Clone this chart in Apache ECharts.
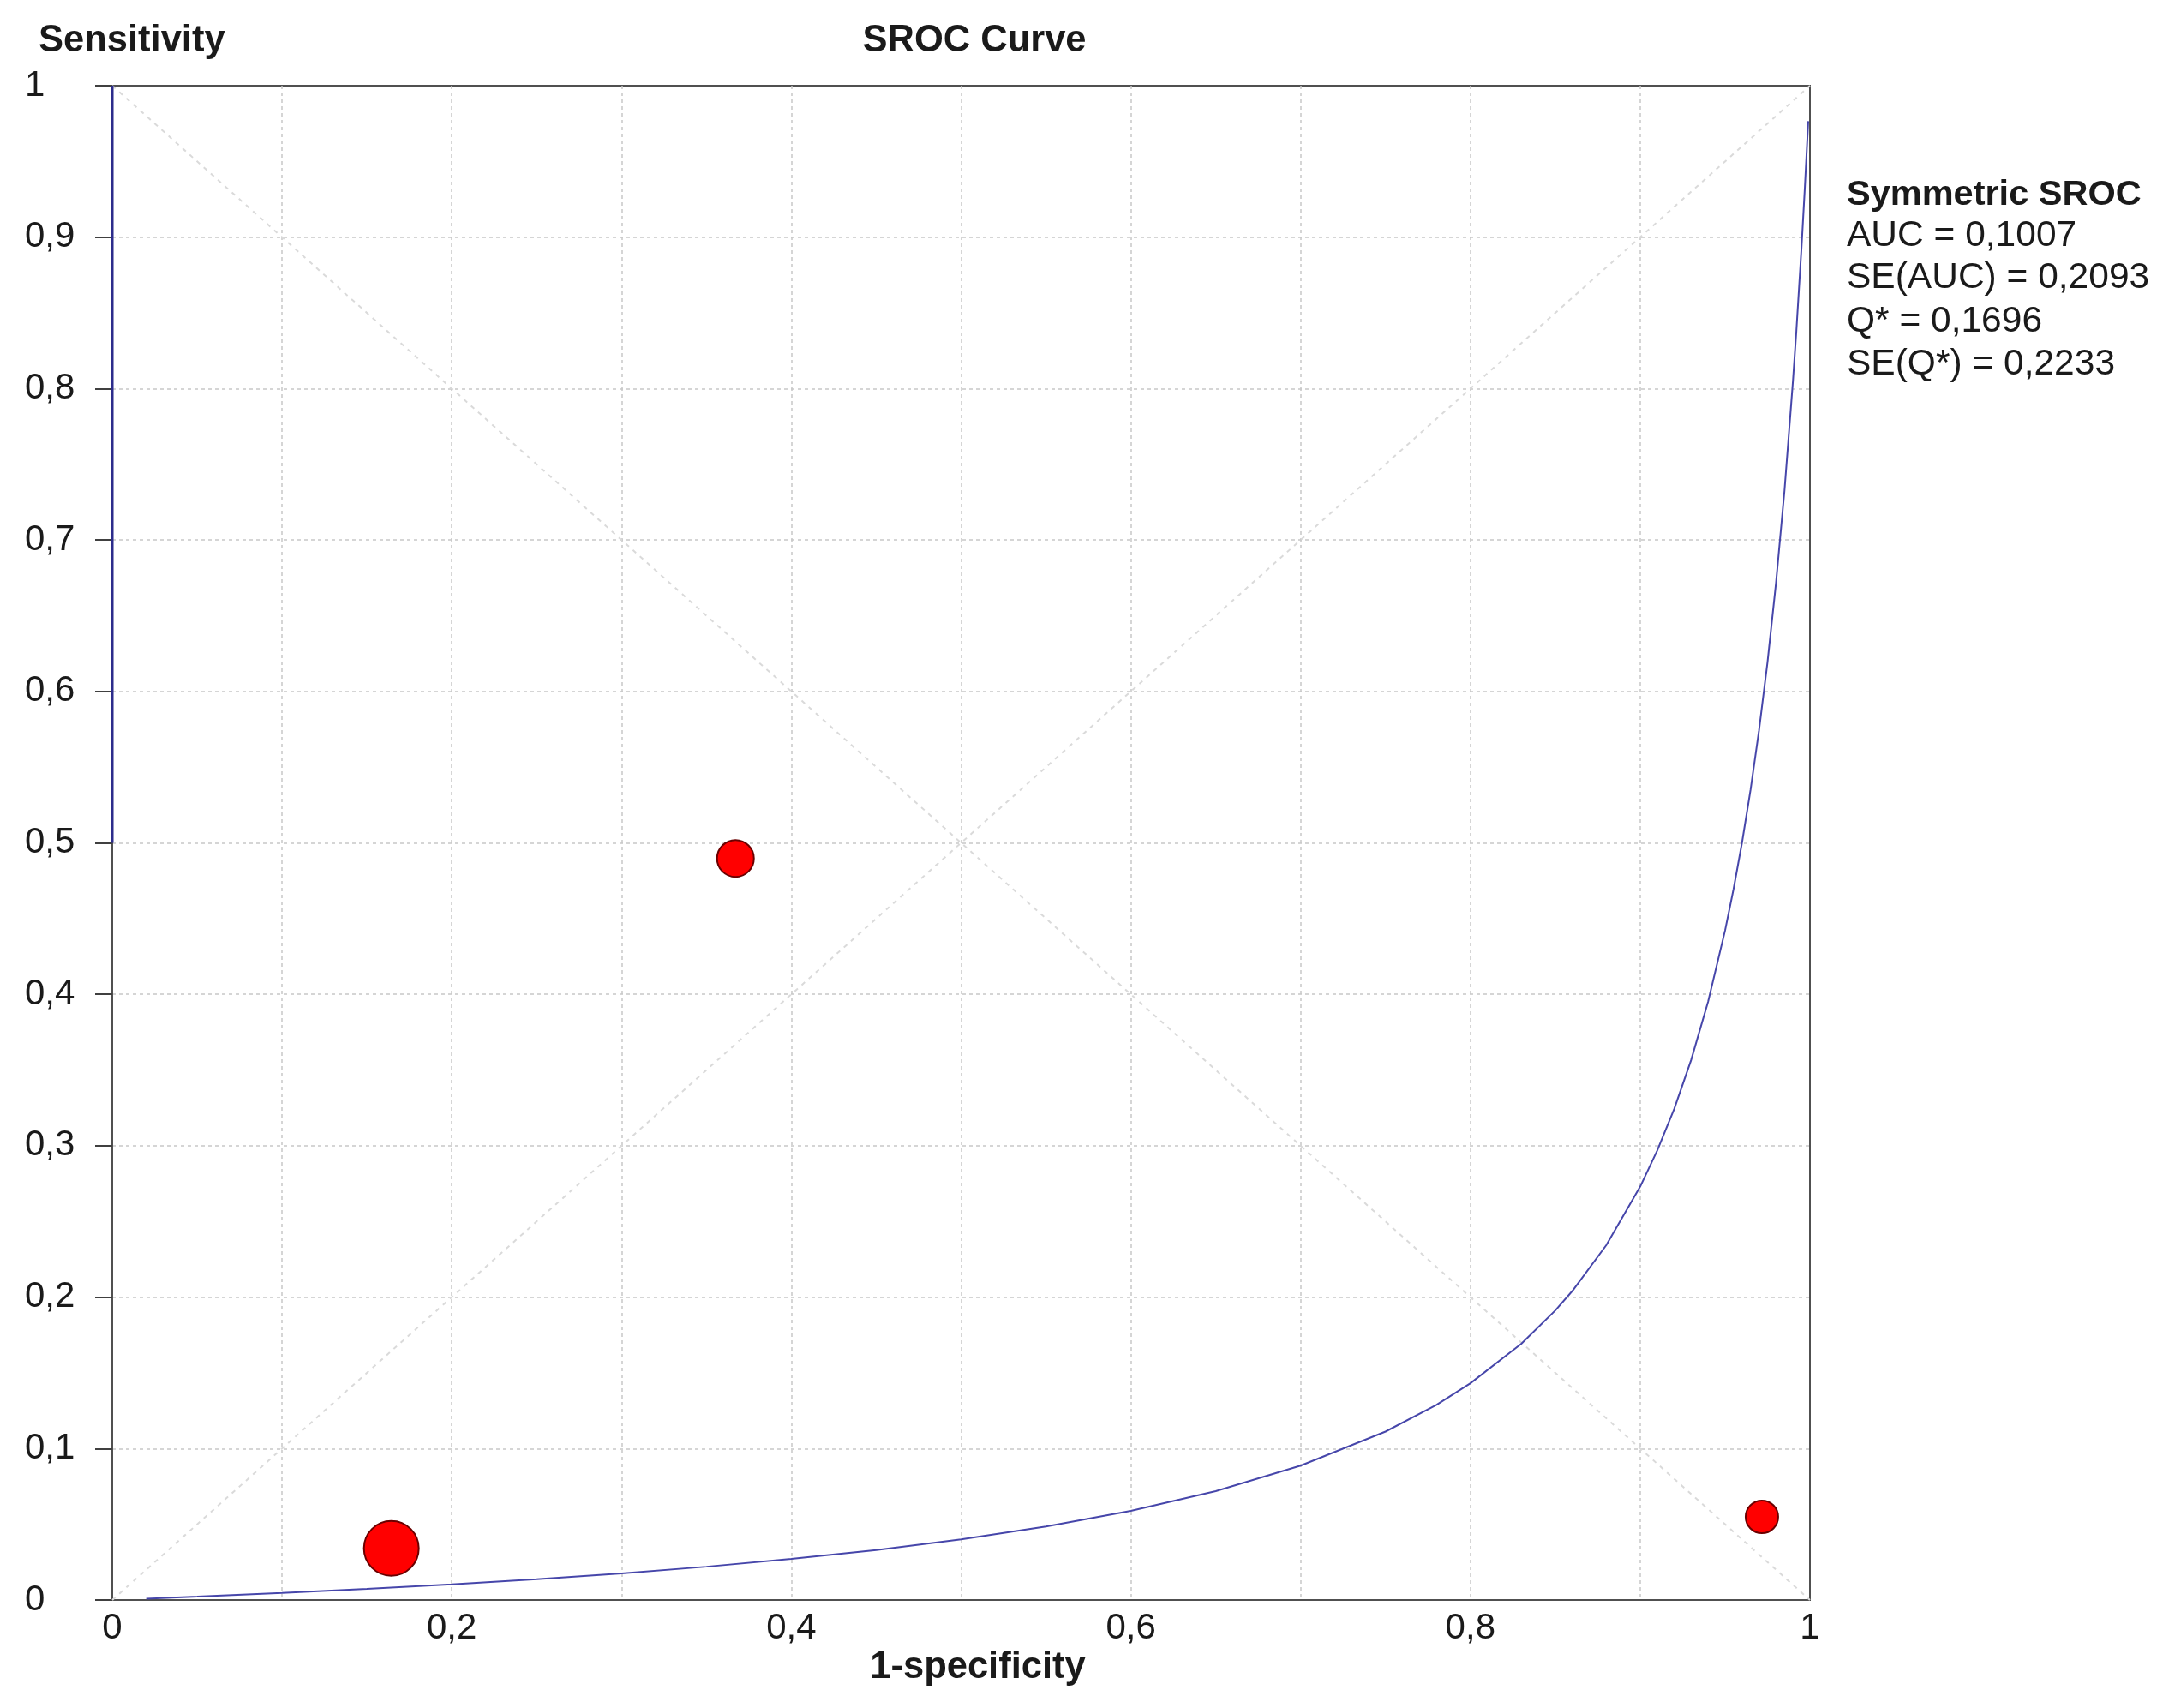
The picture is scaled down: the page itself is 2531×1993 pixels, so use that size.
<!DOCTYPE html>
<html>
<head>
<meta charset="utf-8">
<style>
html,body{margin:0;padding:0;background:#fff;}
#chart{width:2531px;height:1993px;}
</style>
<script src="https://cdn.jsdelivr.net/npm/echarts@6/dist/echarts.min.js"></script>
</head>
<body>
<div id="chart"></div>
<script>
// Study points: [1-specificity, sensitivity, marker weight]
var studyX = [0.1644, 0.3671, 0.9717];
var studyY = [0.0341, 0.4897, 0.0549];
var studyW = [64, 43, 38];

// Symmetric SROC curve
var curveX = [0.02, 0.05, 0.1, 0.15, 0.2, 0.25, 0.3, 0.35, 0.4, 0.45, 0.5, 0.55, 0.6, 0.65, 0.7, 0.75, 0.78, 0.8, 0.83, 0.85, 0.86, 0.88, 0.9, 0.91, 0.92, 0.93, 0.94, 0.95, 0.955, 0.96, 0.965, 0.97, 0.975, 0.98, 0.985, 0.99, 0.992, 0.995, 0.997, 0.999];
var curveY = [0.0009, 0.0022, 0.0046, 0.0073, 0.0103, 0.0137, 0.0176, 0.0220, 0.0271, 0.0330, 0.0400, 0.0485, 0.0589, 0.0719, 0.0887, 0.1112, 0.1288, 0.1431, 0.1692, 0.1912, 0.2040, 0.2343, 0.2730, 0.2968, 0.3242, 0.3566, 0.3952, 0.4422, 0.4696, 0.5003, 0.5350, 0.5743, 0.6193, 0.6715, 0.7326, 0.8051, 0.8380, 0.8925, 0.9327, 0.9766];

// Segment drawn over the y axis
var axisSegX = [0, 0];
var axisSegY = [0.5, 1];

// Reference diagonals
var diag1X = [0, 1], diag1Y = [0, 1];
var diag2X = [0, 1], diag2Y = [1, 0];

var statLines = ['AUC = 0,1007', 'SE(AUC) = 0,2093', 'Q* = 0,1696', 'SE(Q*) = 0,2233'];

function zip(a, b) { return a.map(function (v, i) { return [v, b[i]]; }); }
function fmt(v) { var r = Math.round(v * 10) / 10; return String(r).replace('.', ','); }

var FONT = '"Liberation Sans", Arial, sans-serif';
var chart = echarts.init(document.getElementById('chart'), null, { renderer: 'canvas' });

var graphics = [
  { type: 'text', left: 45, top: 26, style: { text: 'Sensitivity', font: 'bold 43.5px ' + FONT, fill: '#1a1a1a' } },
  { type: 'text', x: 1137, y: 48, style: { text: 'SROC Curve', font: 'bold 43.5px ' + FONT, fill: '#1a1a1a', textAlign: 'center', textVerticalAlign: 'middle' } },
  { type: 'text', x: 1141, y: 1946, style: { text: '1-specificity', font: 'bold 43.5px ' + FONT, fill: '#1a1a1a', textAlign: 'center', textVerticalAlign: 'middle' } },
  { type: 'text', x: 2155, y: 228, style: { text: 'Symmetric SROC', font: 'bold 41.5px ' + FONT, fill: '#1a1a1a', textVerticalAlign: 'middle' } }
];
var lineYs = [275, 324, 375, 425];
statLines.forEach(function (t, i) {
  graphics.push({ type: 'text', x: 2155, y: lineYs[i], style: { text: t, font: '42.5px ' + FONT, fill: '#1a1a1a', textVerticalAlign: 'middle' } });
});

var borderAxis = {
  type: 'value', min: 0, max: 1, interval: 0.1,
  axisLine: { show: true, lineStyle: { color: '#505050', width: 2 } },
  axisTick: { show: false }, axisLabel: { show: false }, splitLine: { show: false }
};

var option = {
  backgroundColor: '#ffffff',
  animation: false,
  grid: { left: 131, top: 100, right: 419, bottom: 126, show: true, borderColor: '#505050', borderWidth: 2, backgroundColor: '#ffffff' },
  xAxis: [{
    type: 'value', min: 0, max: 1, interval: 0.1,
    axisLine: { show: true, lineStyle: { color: '#404040', width: 2 } },
    axisTick: { show: false },
    axisLabel: {
      margin: 12, color: '#1a1a1a', fontSize: 42, fontFamily: FONT,
      formatter: function (v) { var k = Math.round(v * 10); return (k % 2 === 0) ? fmt(v) : ''; }
    },
    splitLine: { show: true, showMinLine: false, showMaxLine: false, lineStyle: { color: '#c8c8c8', type: [4, 4], width: 1.5 } }
  }, Object.assign({ position: 'top' }, borderAxis)],
  yAxis: [{
    type: 'value', min: 0, max: 1, interval: 0.1,
    axisLine: { show: true, lineStyle: { color: '#404040', width: 2 } },
    axisTick: { show: true, length: 20, lineStyle: { color: '#404040', width: 2 } },
    axisLabel: { margin: 102, align: 'left', color: '#1a1a1a', fontSize: 42, fontFamily: FONT, formatter: fmt },
    splitLine: { show: true, showMinLine: false, showMaxLine: false, lineStyle: { color: '#c8c8c8', type: [4, 4], width: 1.5 } }
  }, Object.assign({ position: 'right' }, borderAxis)],
  graphic: graphics,
  series: [
    { type: 'line', data: zip(diag1X, diag1Y), symbol: 'none', silent: true, z: 1,
      lineStyle: { color: '#dadada', width: 2, type: [5, 6] } },
    { type: 'line', data: zip(diag2X, diag2Y), symbol: 'none', silent: true, z: 1,
      lineStyle: { color: '#dadada', width: 2, type: [5, 6] } },
    { type: 'line', data: zip(axisSegX, axisSegY), symbol: 'none', silent: true, z: 3,
      lineStyle: { color: '#2c2c8c', width: 3 } },
    { type: 'line', data: zip(curveX, curveY), symbol: 'none', smooth: false, z: 3,
      lineStyle: { color: '#4646aa', width: 2 } },
    { type: 'scatter', z: 4,
      data: studyX.map(function (v, i) { return [v, studyY[i], studyW[i]]; }),
      symbolSize: function (d) { return d[2]; },
      itemStyle: { color: '#ff0000', borderColor: '#6a0000', borderWidth: 2, opacity: 1 } }
  ]
};
chart.setOption(option);
</script>
</body>
</html>
